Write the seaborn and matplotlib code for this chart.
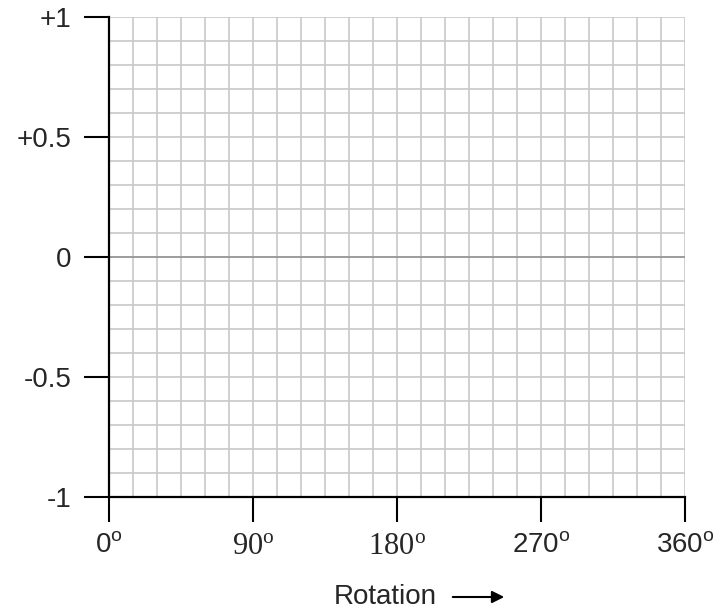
import seaborn as sns
import matplotlib.pyplot as plt
import pandas as pd
from matplotlib.ticker import MultipleLocator

# axis data
x_ticks = [0, 90, 180, 270, 360]
x_labels = ["0", "90", "180", "270", "360"]
x_label_fonts = ["Liberation Sans", "Liberation Serif", "Liberation Serif", "Liberation Sans", "Liberation Sans"]
x_label_sizes = [20, 22, 22, 20, 20]
y_ticks = [-1, -0.5, 0, 0.5, 1]
y_labels = ["-1", "-0.5", "0", "+0.5", "+1"]
zero_x = [0, 360]
zero_y = [0, 0]

sns.set_style("white")
plt.rcParams['font.family'] = ['Liberation Sans', 'DejaVu Sans']

fig = plt.figure(figsize=(7.25, 6.11), dpi=100)
ax = fig.add_axes([109 / 725, 1 - 497 / 611, 576 / 725, 480 / 611])

df = pd.DataFrame({'x': zero_x, 'y': zero_y})
sns.lineplot(data=df, x='x', y='y', ax=ax, color='#999999', linewidth=1.3, zorder=2)

ax.set_xlim(0, 360)
ax.set_ylim(-1, 1)
ax.set_xticks(x_ticks)
ax.set_yticks(y_ticks)
ax.xaxis.set_minor_locator(MultipleLocator(15))
ax.yaxis.set_minor_locator(MultipleLocator(0.1))
ax.grid(True, which='both', color='#c8c8c8', linewidth=1.2, zorder=1)
ax.set_axisbelow(True)

ax.set_xticklabels([r"$\mathregular{%s^o}$" % s for s in x_labels], fontsize=20)
for lab, fam, sz in zip(ax.get_xticklabels(), x_label_fonts, x_label_sizes):
    lab.set_fontfamily(fam)
    lab.set_fontsize(sz)
ax.set_yticklabels(y_labels, fontsize=20)

ax.tick_params(which='major', direction='out', length=18, width=1.5, color='black',
               bottom=True, left=True, pad=7)
ax.tick_params(axis='y', pad=9)
ax.tick_params(which='minor', length=0)

for side in ['top', 'right']:
    ax.spines[side].set_visible(False)
for side in ['left', 'bottom']:
    ax.spines[side].set_color('black')
    ax.spines[side].set_linewidth(1.6)

ax.set_xlabel("")
ax.set_ylabel("")
fig.text(385 / 725, 1 - 597 / 611, "Rotation", fontsize=20, ha='center', va='center')
ax.annotate("", xy=(507 / 725, 1 - 597 / 611), xytext=(450 / 725, 1 - 597 / 611),
            xycoords='figure fraction', textcoords='figure fraction',
            arrowprops=dict(arrowstyle='-|>', color='black', lw=1.5, mutation_scale=18))

fig.savefig("out.png", dpi=100)
